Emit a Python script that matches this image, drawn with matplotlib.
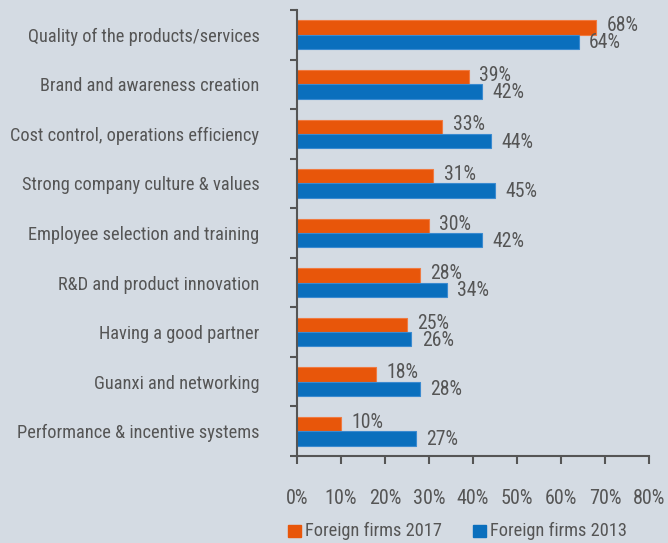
import numpy as np
import matplotlib
matplotlib.use('Agg')
from matplotlib import pyplot as plt

# data
categories = ['Quality of the products/services', 'Brand and awareness creation',
              'Cost control, operations efficiency', 'Strong company culture & values',
              'Employee selection and training', 'R&D and product innovation',
              'Having a good partner', 'Guanxi and networking',
              'Performance & incentive systems']
firms_2017 = [68, 39, 33, 31, 30, 28, 25, 18, 10]
firms_2013 = [64, 42, 44, 45, 42, 34, 26, 28, 27]
x_ticks = [0, 10, 20, 30, 40, 50, 60, 70, 80]
series_names = ['Foreign firms 2017', 'Foreign firms 2013']

plt.rcParams['font.family'] = ['Roboto Condensed', 'DejaVu Sans']

bg = '#d4dbe3'
txt = '#555555'
orange = '#e8560a'
blue = '#0a6fbd'
fs_cat = 13.2
fs_num = 14.2
fs_tick = 14.5

W, H = 668, 543
fig = plt.figure(figsize=(W/100, H/100), dpi=100, facecolor=bg)
ax = fig.add_axes([297/W, 1-456/H, 352/W, 446/H], facecolor=bg)

y = np.arange(len(categories)) + 0.5
ax.barh(y - 0.145, firms_2017, height=0.29, color=orange, edgecolor='#f07a40', linewidth=0.8)
ax.barh(y + 0.145, firms_2013, height=0.29, color=blue, edgecolor='#3a8ad0', linewidth=0.8)

for yi, v in zip(y, firms_2017):
    ax.annotate(f'{v}%', (v, yi - 0.18), xytext=(7.5, 0), textcoords='offset points',
                va='center', ha='left', fontsize=fs_num, color=txt)
for yi, v in zip(y, firms_2013):
    ax.annotate(f'{v}%', (v, yi + 0.165), xytext=(7.5, 0), textcoords='offset points',
                va='center', ha='left', fontsize=fs_num, color=txt)

ax.set_xlim(0, 80)
ax.set_ylim(len(categories), 0)
ax.set_xticks(x_ticks)
ax.set_xticklabels([f'{t}%' for t in x_ticks], fontsize=fs_tick, color=txt)
ax.set_yticks(np.arange(len(categories) + 1))
ax.set_yticklabels([])
ax.set_yticks(y, minor=True)
ax.set_yticklabels(categories, minor=True, fontsize=fs_cat, color=txt)
ax.tick_params(axis='y', which='minor', length=0, pad=27)
ax.tick_params(axis='y', which='major', length=5, width=1.5, color='#555555')
ax.tick_params(axis='x', length=6, width=1.5, color='#555555', pad=18)

for s in ['top', 'right']:
    ax.spines[s].set_visible(False)
for s in ['left', 'bottom']:
    ax.spines[s].set_color('#555555')
    ax.spines[s].set_linewidth(1.5)

# legend below the axis
for x0, col, name in [(288, orange, series_names[0]), (473, blue, series_names[1])]:
    fig.patches.append(plt.Rectangle((x0/W, 1-537/H), 13/W, 12/H, color=col,
                                     transform=fig.transFigure))
    fig.text((x0+17)/W, 1-531/H, name, va='center', ha='left', fontsize=fs_cat, color=txt)

fig.savefig('out.png', dpi=100, facecolor=bg)
